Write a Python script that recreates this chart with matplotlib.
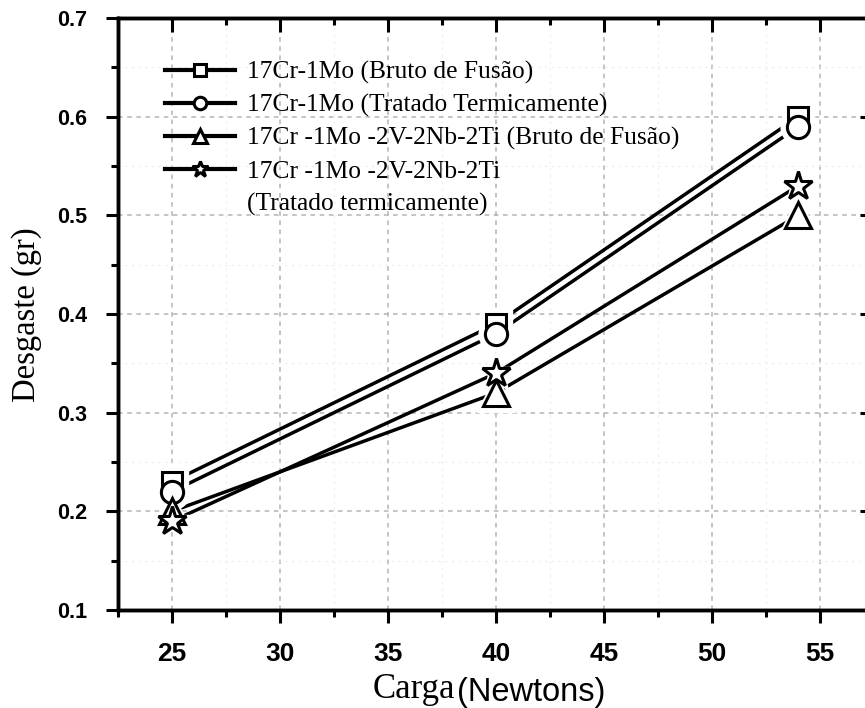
import matplotlib
matplotlib.use("Agg")
import matplotlib.pyplot as plt
from matplotlib.lines import Line2D
from matplotlib.ticker import MultipleLocator

# wear test results
carga = [25, 40, 54]
bruto_17cr = [0.23, 0.39, 0.60]
tratado_17cr = [0.22, 0.38, 0.59]
bruto_ti = [0.20, 0.32, 0.50]
tratado_ti = [0.19, 0.34, 0.53]

labels = [
    "17Cr-1Mo (Bruto de Fusão)",
    "17Cr-1Mo (Tratado Termicamente)",
    "17Cr -1Mo -2V-2Nb-2Ti (Bruto de Fusão)",
    "17Cr -1Mo -2V-2Nb-2Ti",
]
extra_line = "(Tratado termicamente)"
series = [bruto_17cr, tratado_17cr, bruto_ti, tratado_ti]
markers = ["s", "o", "^", "*"]
msizes = [14, 16, 19, 21]
leg_sizes = [8.5, 9, 10, 12]

fig = plt.figure(figsize=(8.65, 7.08), dpi=100)
W, H = 865, 708
ax = fig.add_axes([118 / W, (H - 610) / H, (874 - 118) / W, (610 - 18) / H])

handles = []
for ys, m, ms, lms in zip(series, markers, msizes, leg_sizes):
    ax.plot(carga, ys, color="black", lw=2.5, zorder=3)
    # white halo under the marker leaves a gap between line and symbol
    ax.plot(carga, ys, ls="none", marker=m, ms=ms + 9, mfc="white", mec="white", zorder=4)
    ax.plot(carga, ys, ls="none", marker=m, ms=ms, mfc="white", mec="black", mew=2.2, zorder=5)
    h = Line2D([], [], color="black", lw=3, marker=m, ms=lms, mfc="white", mec="black", mew=2.2)
    handles.append(h)
# second line of the last label sits under the text, without a symbol
handles.append(Line2D([], [], color="none"))
labels = labels + [extra_line]

xlim = (22.5, 57.5)
ylim = (0.1, 0.7)
ax.set_xlim(*xlim)
ax.set_ylim(*ylim)
ax.xaxis.set_major_locator(MultipleLocator(5))
ax.xaxis.set_minor_locator(MultipleLocator(2.5))
ax.yaxis.set_major_locator(MultipleLocator(0.1))
ax.yaxis.set_minor_locator(MultipleLocator(0.05))

ax.grid(True, which="major", ls=(0, (3, 3)), color="#b4b4b4", lw=1.1)
ax.grid(True, which="minor", ls=(0, (2, 4)), color="#ececec", lw=0.8)

for s in ax.spines.values():
    s.set_linewidth(2.4)

ax.tick_params(which="major", direction="out", length=9, width=2.2)
ax.tick_params(which="minor", direction="out", length=5, width=2.2)
ax.tick_params(axis="x", which="major", labelsize=19, pad=14)
ax.tick_params(axis="y", which="major", labelsize=15.5, pad=13)
for lab in ax.get_xticklabels() + ax.get_yticklabels():
    lab.set_fontfamily("Liberation Sans")
    lab.set_fontweight("bold")

# top and right: inward ticks, no labels
ax_top = ax.twiny()
ax_top.set_xlim(*xlim)
ax_top.xaxis.set_major_locator(MultipleLocator(5))
ax_top.xaxis.set_minor_locator(MultipleLocator(2.5))
ax_top.tick_params(axis="x", which="major", direction="in", length=10, width=2.2, labeltop=False)
ax_top.tick_params(axis="x", which="minor", direction="in", length=5, width=2.2)
ax_right = ax.twinx()
ax_right.set_ylim(*ylim)
ax_right.yaxis.set_major_locator(MultipleLocator(0.1))
ax_right.yaxis.set_minor_locator(MultipleLocator(0.05))
ax_right.tick_params(axis="y", which="major", direction="in", length=10, width=2.2, labelright=False)
ax_right.tick_params(axis="y", which="minor", direction="in", length=5, width=2.2)
for a in (ax_top, ax_right):
    for s in a.spines.values():
        s.set_linewidth(2.4)

fig.text(27 / W, 1 - 315 / H, "Desgaste (gr)", fontfamily="Liberation Serif", fontsize=23.5,
         rotation=90, ha="center", va="center")
fig.text(455 / W, 1 - 690 / H, "Carga", fontfamily="Liberation Serif", fontsize=25,
         ha="right", va="center")
fig.text(457 / W, 1 - 692 / H, "(Newtons)", fontfamily="Liberation Sans", fontsize=23.5,
         ha="left", va="center")

ax.legend(handles=handles, labels=labels, loc="upper left",
          bbox_to_anchor=(142 / W, 1 - 38 / H), bbox_transform=fig.transFigure,
          frameon=False, handlelength=2.73, handletextpad=0.47, labelspacing=0.38,
          prop={"family": "Liberation Serif", "size": 18.4})

fig.savefig("out.png", dpi=100)
